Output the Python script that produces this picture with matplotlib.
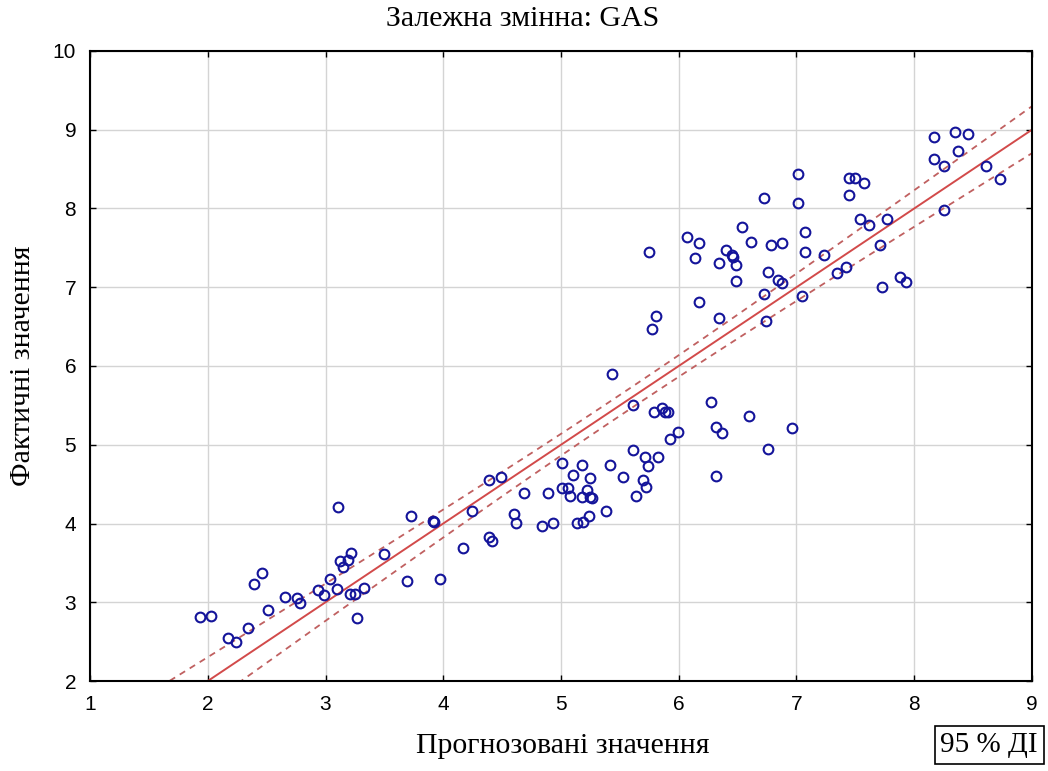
import numpy as np
import matplotlib.pyplot as plt

# прогнозовані та фактичні значення GAS
predicted = [
    1.93, 2.03, 2.17, 2.24, 2.34, 2.39, 2.46, 2.51, 2.66, 2.76,
    2.78, 2.94, 2.99, 3.04, 3.11, 3.12, 3.15, 3.19, 3.22, 3.10,
    3.21, 3.25, 3.27, 3.33, 3.50, 3.69, 3.73, 3.91, 3.92, 3.97,
    4.17, 4.24, 4.39, 4.49, 4.39, 4.41, 4.60, 4.62, 4.69, 4.84,
    4.93, 4.89, 5.01, 5.01, 5.06, 5.08, 5.10, 5.18, 5.22, 5.18,
    5.25, 5.26, 5.25, 5.14, 5.19, 5.24, 5.38, 5.42, 5.53, 5.61,
    5.61, 5.64, 5.70, 5.72, 5.71, 5.74, 5.82, 5.79, 5.86, 5.88,
    5.91, 5.93, 5.99, 6.27, 6.32, 6.32, 6.37, 6.60, 6.76, 6.96,
    5.75, 5.81, 5.77, 5.43, 6.07, 6.17, 6.14, 6.17, 6.34, 6.34,
    6.40, 6.45, 6.46, 6.49, 6.49, 6.54, 6.61, 6.78, 6.88, 6.76,
    6.84, 6.88, 6.72, 6.74, 7.07, 7.07, 7.05, 7.01, 7.01, 6.72,
    7.23, 7.34, 7.42, 7.45, 7.50, 7.57, 7.45, 7.54, 7.62, 7.77,
    7.71, 7.73, 7.88, 7.93, 8.17, 8.17, 8.25, 8.35, 8.46, 8.37,
    8.25, 8.61, 8.73,
]
actual = [
    2.81, 2.83, 2.55, 2.50, 2.67, 3.23, 3.37, 2.90, 3.07, 3.05,
    2.99, 3.16, 3.09, 3.30, 4.21, 3.52, 3.45, 3.54, 3.63, 3.17,
    3.11, 3.11, 2.80, 3.18, 3.61, 3.27, 4.10, 4.03, 4.02, 3.30,
    3.69, 4.16, 4.55, 4.59, 3.83, 3.78, 4.12, 4.01, 4.39, 3.97,
    4.01, 4.39, 4.77, 4.45, 4.45, 4.35, 4.62, 4.74, 4.43, 4.34,
    4.34, 4.32, 4.58, 4.01, 4.02, 4.10, 4.16, 4.74, 4.59, 5.50,
    4.93, 4.35, 4.55, 4.46, 4.84, 4.73, 4.84, 5.42, 5.47, 5.42,
    5.42, 5.07, 5.16, 5.54, 5.23, 4.60, 5.15, 5.37, 4.95, 5.21,
    7.45, 6.64, 6.47, 5.90, 7.64, 7.56, 7.37, 6.81, 6.61, 7.31,
    7.47, 7.41, 7.38, 7.28, 7.08, 7.77, 7.57, 7.53, 7.56, 7.19,
    7.09, 7.05, 6.91, 6.57, 7.70, 7.45, 6.89, 8.44, 8.07, 8.13,
    7.41, 7.18, 7.26, 8.39, 8.39, 8.32, 8.17, 7.87, 7.79, 7.87,
    7.54, 7.00, 7.13, 7.07, 8.91, 8.63, 8.54, 8.97, 8.95, 8.73,
    7.98, 8.54, 8.38,
]
x_ticks = [1, 2, 3, 4, 5, 6, 7, 8, 9]
y_ticks = [2, 3, 4, 5, 6, 7, 8, 9, 10]

x = np.array(predicted)
y = np.array(actual)
n = len(x)

# для МНК-прогнозу регресія фактичних на прогнозовані дає y = x,
# довірчий інтервал рахуємо за залишками
a, b = 0.0, 1.0
resid = y - (a + b * x)
s = np.sqrt(np.sum(resid ** 2) / (n - 2))
sxx = np.sum((x - x.mean()) ** 2)
t = 1.977
xs = np.linspace(1, 9, 200)
ys = a + b * xs
hw = t * s * np.sqrt(1.0 / n + (xs - x.mean()) ** 2 / sxx)

fig = plt.figure(figsize=(10.48, 7.71), dpi=100)
ax = fig.add_axes([0.0859, 0.1167, 0.8988, 0.8172])

ax.grid(True, color='#d4d4d4', lw=1.0)
ax.set_axisbelow(True)

red = '#d24a4a'
ax.plot(xs, ys, color=red, lw=1.4, zorder=2)
ax.plot(xs, ys + hw, color='#c06060', lw=1.3, ls=(0, (3.5, 3)), zorder=2)
ax.plot(xs, ys - hw, color='#c06060', lw=1.3, ls=(0, (3.5, 3)), zorder=2)

ax.plot(x, y, 'o', ms=7, mfc='none', mec='#14149a', mew=1.5, zorder=3)

ax.set_xlim(1, 9)
ax.set_ylim(2, 10)
ax.set_xticks(x_ticks)
ax.set_yticks(y_ticks)
ax.tick_params(direction='in', top=True, right=True, length=4, width=1,
               labelsize=15, pad=10)
for lab in ax.get_xticklabels() + ax.get_yticklabels():
    lab.set_family('Liberation Sans')
for sp in ax.spines.values():
    sp.set_linewidth(1.5)

serif = ['Liberation Serif', 'DejaVu Serif']
fig.text(0.499, 0.976, 'Залежна змінна: GAS', ha='center', va='center',
         family=serif, fontsize=21.5)
fig.text(0.537, 0.033, 'Прогнозовані значення', ha='center', va='center',
         family=serif, fontsize=21.5)
fig.text(0.022, 0.526, 'Фактичні значення', ha='center', va='center',
         rotation=90, family=serif, fontsize=21.5)
fig.text(0.944, 0.034, '95 % ДІ', ha='center', va='center', family=serif,
         fontsize=21, bbox=dict(boxstyle='square,pad=0.2', fc='white',
                                ec='black', lw=1.2))

fig.savefig('out.png', dpi=100)
